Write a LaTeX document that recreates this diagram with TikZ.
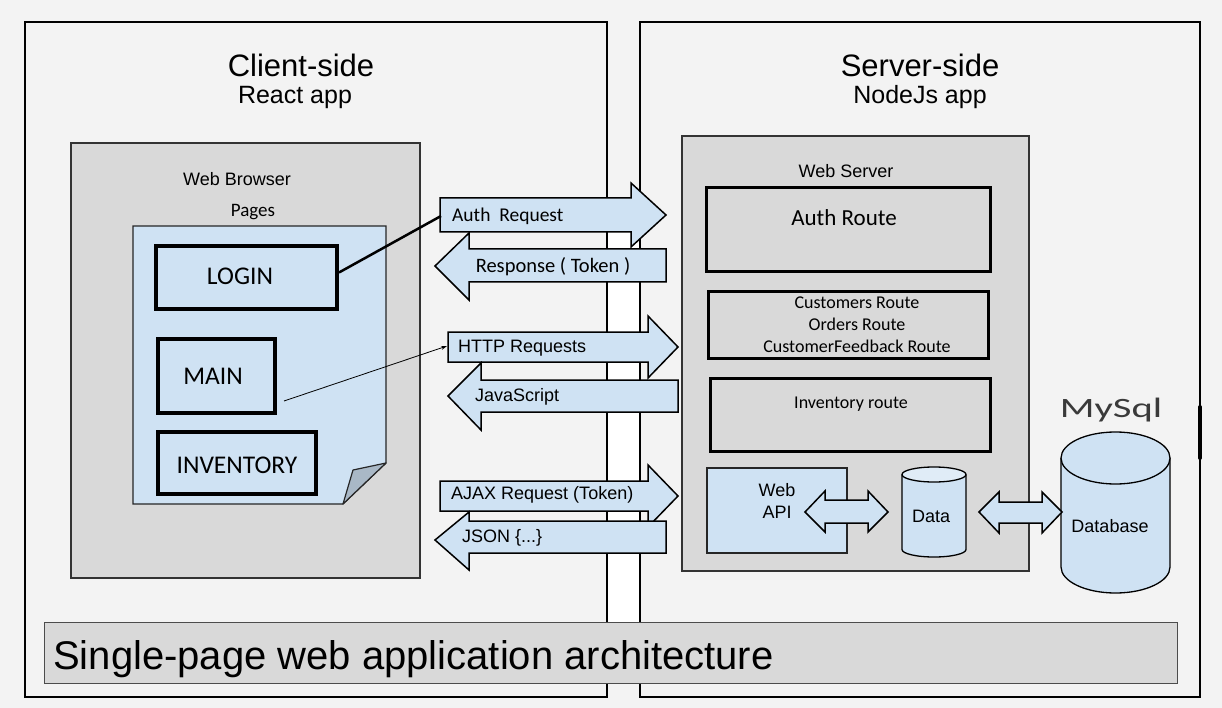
\documentclass[tikz,border=0pt]{standalone}
\usepackage{fontspec}
\setmainfont{Liberation Sans}
\newfontfamily\calfont{Carlito}
\usetikzlibrary{arrows.meta}
\definecolor{bg}{HTML}{F3F3F3}
\definecolor{gbox}{HTML}{D9D9D9}
\definecolor{lblue}{HTML}{CFE2F3}
\definecolor{ltop}{HTML}{E0ECF7}
\definecolor{foldc}{HTML}{A9B8C6}
\definecolor{mysqlc}{HTML}{3A3A3A}
\tikzset{
  panel/.style={draw=black, line width=1.5pt},
  graybox/.style={draw=black!80, fill=gbox, line width=1.2pt, inner sep=0pt},
  pagebox/.style={draw=black, line width=4pt, inner sep=0pt},
  routebox/.style={draw=black, line width=3pt, inner sep=0pt},
  bluebox/.style={draw=black!85, fill=lblue, line width=1.2pt, inner sep=0pt},
  blockarrow/.style={draw=black, fill=lblue, line width=1.5pt, line join=miter},
  cyl/.style={draw=black, fill=lblue, line width=1.3pt},
  ar/.style={font=\fontsize{18}{22}\selectfont, inner sep=0pt},
  cb/.style={font=\calfont\fontsize{18}{22}\selectfont, inner sep=0pt},
  pg/.style={font=\calfont\fontsize{25.5}{26}\selectfont, inner sep=0pt},
}
\begin{document}
\begin{tikzpicture}[x=1pt,y=-1pt]
\useasboundingbox (0,0) rectangle (1222,708);
\fill[bg] (0,0) rectangle (1222,708);
% white strip between panels
\fill[white] (607,198) rectangle (640,622);
% panels
\draw[panel] (25,22) rectangle (607,697);
\draw[panel] (640,22) rectangle (1200,697);
\draw[line width=4pt, line cap=round] (1200,407) -- (1200,458);
% titles
\node[font=\fontsize{31}{31}\selectfont, anchor=base, inner sep=0pt] (ctitle) at (301,77) {Client-side};
\node[font=\fontsize{25}{25}\selectfont, anchor=base, inner sep=0pt] (csub) at (295,104) {React app};
\node[font=\fontsize{31}{31}\selectfont, anchor=base, inner sep=0pt] (stitle) at (920,77) {Server-side};
\node[font=\fontsize{25}{25}\selectfont, anchor=base, inner sep=0pt] (ssub) at (920,104) {NodeJs app};
% web browser
\node[graybox, minimum width=349pt, minimum height=435pt] (browser) at (245.5,360.5) {};
\node[ar] (browserlbl) at (237,179) {Web Browser};
\node[font=\calfont\fontsize{19}{19}\selectfont, inner sep=0pt] (pageslbl) at (253,212) {Pages};
% page with folded corner
\draw[fill=lblue, draw=black!85, line width=1.2pt, line join=miter] (133,226) -- (386,226) -- (386,463) -- (343,504) -- (133,504) -- cycle;
\draw[fill=foldc, draw=black!85, line width=1.2pt, line join=round] (343,504) -- (353,470) -- (386,463) -- cycle;
\node[pagebox, minimum width=181pt, minimum height=63pt] (login) at (246.5,277.5) {};
\node[pg] (loginlbl) at (240,276) {LOGIN};
\node[pagebox, minimum width=117pt, minimum height=74pt] (main) at (216.5,376) {};
\node[pg] (mainlbl) at (213,376) {MAIN};
\node[pagebox, minimum width=158pt, minimum height=62pt] (inv) at (237,463) {};
\node[pg] (invlbl) at (237,465) {INVENTORY};
% web server
\node[graybox, minimum width=347pt, minimum height=435pt] (server) at (855.5,353.5) {};
\node[ar] (serverlbl) at (846,171) {Web Server};
\node[routebox, minimum width=284pt, minimum height=84pt] (authroute) at (848.5,229.5) {};
\node[font=\calfont\fontsize{23}{23}\selectfont, inner sep=0pt] (authroutelbl) at (844,218) {Auth Route};
\node[routebox, minimum width=280pt, minimum height=67pt] (custroute) at (848.5,325) {};
\node[cb, align=center] (custlbl) at (857,325) {Customers Route\\Orders Route\\CustomerFeedback Route};
\node[routebox, minimum width=280pt, minimum height=73pt] (invroute) at (850.5,415) {};
\node[cb] (invroutelbl) at (851,404) {Inventory route};
\node[bluebox, minimum width=140pt, minimum height=85pt] (webapi) at (777,510.5) {};
\node[ar, align=center] (webapilbl) at (777,501) {Web\\API};
% data cylinder
\draw[cyl] (902,474.5) -- (902,549.5) arc[start angle=180, end angle=360, x radius=32pt, y radius=7.5pt] -- (966,474.5);
\draw[cyl, fill=ltop] (934,474.5) ellipse[x radius=32pt, y radius=7.5pt];
\node[ar] (data) at (931,516) {Data};
% database cylinder
\draw[cyl] (1061,458) -- (1061,567) arc[start angle=180, end angle=360, x radius=54.5pt, y radius=26pt] -- (1170,458);
\draw[cyl] (1115.5,458) ellipse[x radius=54.5pt, y radius=26pt];
\node[ar] (database) at (1110,526) {Database};
\node[font=\calfont\fontsize{28}{28}\selectfont, text=mysqlc, inner sep=0pt] (mysql) at (1111,410) {\scalebox{1.45}[1]{MySql}};
% double arrows
\draw[blockarrow] (805,512) -- (825,491) -- (825,500) -- (868,500) -- (868,491) -- (888,512) -- (868,532) -- (868,523) -- (825,523) -- (825,532) -- cycle;
\draw[blockarrow] (979,512) -- (999,492) -- (999,502) -- (1042,502) -- (1042,492) -- (1062,512) -- (1042,533) -- (1042,523) -- (999,523) -- (999,533) -- cycle;
% block arrows between client and server
\draw[blockarrow] (440,198) -- (631,198) -- (631,183) -- (666,215) -- (631,247) -- (631,232) -- (440,232) -- cycle;
\node[font=\calfont\fontsize{19.5}{20}\selectfont, anchor=west, inner sep=0pt] (authreq) at (452,216) {Auth\ \ Request};
\coordinate (authL) at (441,216);
\draw[blockarrow] (666,249) -- (469,249) -- (469,233) -- (435,266) -- (469,300) -- (469,282) -- (666,282) -- cycle;
\node[font=\calfont\fontsize{20.5}{21}\selectfont, inner sep=0pt] (resp) at (553,267) {Response ( Token )};
\draw[blockarrow] (448,332) -- (648,332) -- (648,316) -- (678,347) -- (648,378) -- (648,362) -- (448,362) -- cycle;
\node[ar, anchor=west] (http) at (458,348) {HTTP Requests};
\coordinate (httpL) at (447,346);
\draw[blockarrow] (678,380) -- (481,380) -- (481,363) -- (448,396) -- (481,430) -- (481,412) -- (678,412) -- cycle;
\node[ar, anchor=west] (js) at (475,397) {JavaScript};
\draw[blockarrow] (440,481) -- (648,481) -- (648,465) -- (678,496) -- (648,527) -- (648,511) -- (440,511) -- cycle;
\node[ar, anchor=west] (ajax) at (451,495) {AJAX Request (Token)};
\draw[blockarrow] (666,521) -- (469,521) -- (469,512) -- (435,540) -- (469,570) -- (469,553) -- (666,553) -- cycle;
\node[ar, anchor=west] (json) at (462,538) {JSON \{...\}};
% connectors from pages
\draw[line width=2.5pt] ([yshift=5pt]login.east) -- (authL);
\draw[line width=0.8pt, -{Stealth[length=6pt, width=4pt]}] ([xshift=7pt, yshift=-25pt]main.east) -- (httpL);
% bottom bar
\node[draw=black!70, fill=gbox, line width=1pt, minimum width=1133pt, minimum height=61pt, inner sep=0pt] (bar) at (610.5,652.5) {};
\node[font=\fontsize{40}{40}\selectfont, anchor=base west, inner sep=0pt] (barlbl) at (53,669) {Single-page web application architecture};
\end{tikzpicture}
\end{document}
